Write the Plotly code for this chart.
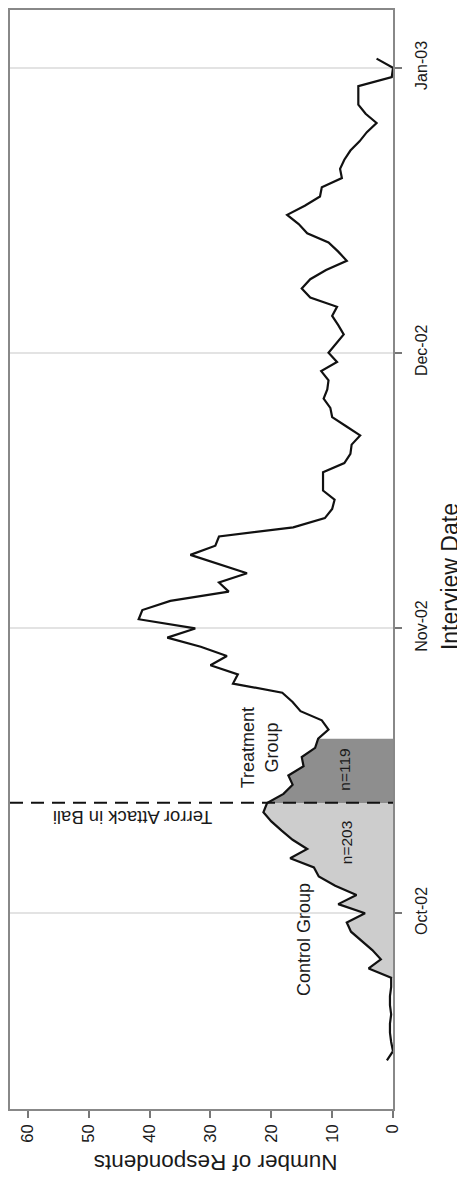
import pandas as pd
import plotly.graph_objects as go

# ---- data ----
start_date = "2002-09-15"
respondents = [
    1, 0, 0.3, 0.5, 0.5, 0.3, 0.5, 0.5, 0.3, 0.3,          # Sep 15-24
    4, 2, 3.4, 5.1, 6.9, 7.6,                               # Sep 25-30
    4.6, 9, 6, 9.5, 12.2, 13, 16.9, 14.1, 16.5, 18.3,       # Oct 1-10
    20, 21.3, 20.7, 18, 16.5, 17.2, 14.7, 15, 12.8, 12.3,   # Oct 11-20
    10.6, 11.7, 15.2, 16.5, 18.2, 26.3, 25.5, 30, 27.3, 31.6, 37.1,  # Oct 21-31
    32.5, 41.8, 41.2, 36.6, 27, 28.6, 24, 28.7, 33.3, 29.2,  # Nov 1-10
    28.6, 16.4, 11.2, 10, 9.6, 11.5, 11.5, 11.5, 8, 7,       # Nov 11-20
    6.8, 5.4, 7.7, 10, 10.3, 11.4, 10.8, 10.6, 11.8, 9.2,    # Nov 21-30
    10.6, 9.3, 8.1, 9, 10, 9.2, 13.6, 15, 13.6, 11,          # Dec 1-10
    7.6, 9, 10.6, 14.1, 15.5, 17.4, 14.5, 12, 11.7, 8.4,     # Dec 11-20
    8.7, 8, 7, 5.5, 4.3, 2.7, 4.5, 5.7, 5.7, 5.7, 0.2,       # Dec 21-31
    0, 2.7,                                                  # Jan 1-2
]
control_period = ("2002-09-24", "2002-10-13")
treatment_period = ("2002-10-13", "2002-10-20")
attack_date = "2002-10-13 01:00"
control_n = "n=203"
treatment_n = "n=119"
month_ticks = ["2002-10-01", "2002-11-01", "2002-12-01", "2003-01-01"]
month_labels = ["Oct-02", "Nov-02", "Dec-02", "Jan-03"]
count_ticks = [0, 10, 20, 30, 40, 50, 60]

dates = pd.date_range(start_date, periods=len(respondents), freq="D")
df = pd.DataFrame({"date": dates, "n": respondents})

ctrl = df[(df.date >= control_period[0]) & (df.date <= control_period[1])]
trt = df[(df.date >= treatment_period[0]) & (df.date <= treatment_period[1])]

FONT = "Liberation Sans, Arial, sans-serif"
TXT = "#1a1a1a"

fig = go.Figure()
fig.add_trace(go.Scatter(x=ctrl.n, y=ctrl.date, mode="lines", fill="tozerox",
                         fillcolor="#cdcdcd", line=dict(width=0), hoverinfo="skip"))
fig.add_trace(go.Scatter(x=trt.n, y=trt.date, mode="lines", fill="tozerox",
                         fillcolor="#8e8e8e", line=dict(width=0), hoverinfo="skip"))
fig.add_trace(go.Scatter(x=df.n, y=df.date, mode="lines",
                         line=dict(color="#111111", width=2.2)))

fig.add_shape(type="line", xref="paper", x0=0, x1=1, yref="y",
              y0=attack_date, y1=attack_date,
              line=dict(color="#111111", width=2, dash="13px,8px"))

def note(x, y, text, angle, size, **kw):
    fig.add_annotation(x=x, y=y, text=text, textangle=angle, showarrow=False,
                       xanchor="center", yanchor="middle",
                       font=dict(family=FONT, color=TXT, size=size), **kw)

note(42.8, "2002-10-11 10:00", "Terror Attack in Bali", 180, 18.5)
note(14.75, "2002-09-28 03:00", "Control Group", -90, 18)
note(21.8, "2002-10-19 00:00", "Treatment<br>Group", -90, 18)
note(7.9, "2002-10-16 15:00", treatment_n, -90, 15.5)
note(7.6, "2002-10-08 17:00", control_n, -90, 15.5)
note(0.536, 0, "Number of Respondents", 180, 22.5, xref="paper", yref="paper", yshift=-54)
note(1, 0.484, "Interview Date", -90, 23, xref="paper", yref="paper", xshift=57)

# page body has an 8px default margin, so the figure is shrunk/shifted to compensate
fig.update_layout(
    width=457, height=1170,
    margin=dict(l=1, r=72, t=0, b=69),
    paper_bgcolor="white", plot_bgcolor="white",
    showlegend=False,
    font=dict(family=FONT, color=TXT),
)
fig.update_xaxes(range=[62.95, 0], tickvals=count_ticks, tickangle=-90,
                 ticks="outside", ticklen=7, tickcolor="#777777", tickwidth=1.5,
                 showgrid=False, zeroline=False,
                 showline=True, mirror=True, linecolor="#888888", linewidth=1.5,
                 tickfont=dict(size=16.5, family=FONT, color=TXT))
fig.update_yaxes(type="date", range=["2002-09-09 17:00", "2003-01-07 07:00"],
                 side="right", tickvals=month_ticks, ticktext=month_labels,
                 tickangle=-90, ticks="outside", ticklen=7, tickcolor="#777777",
                 tickwidth=1.5, showgrid=True, gridcolor="#e3e3e3", gridwidth=1.5,
                 ticklabelstandoff=6,
                 zeroline=False, showline=True, mirror=True, linecolor="#888888",
                 linewidth=1.5, tickfont=dict(size=16, family=FONT, color=TXT))

fig.write_html("out.html")
